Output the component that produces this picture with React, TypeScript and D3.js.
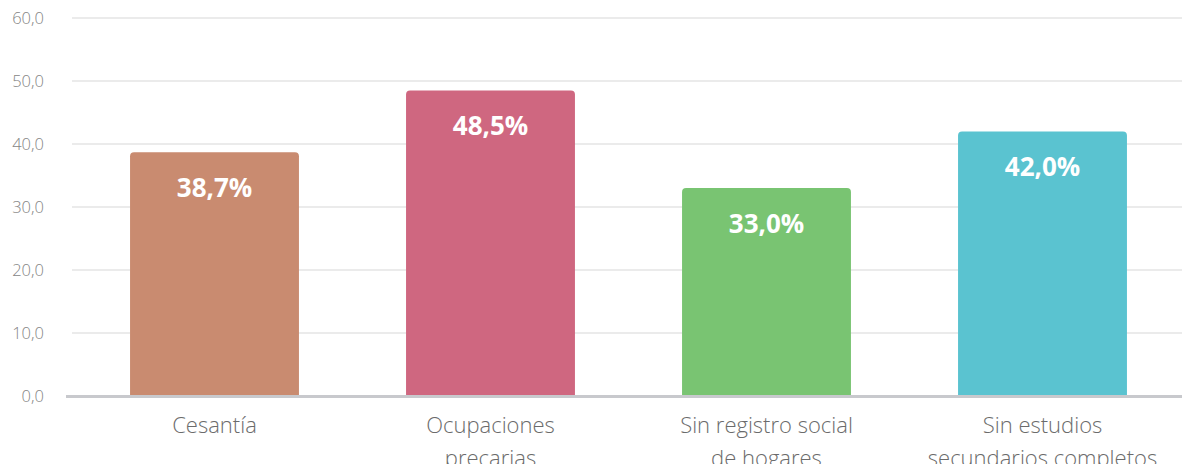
import React, { useEffect, useRef } from "react";
import * as d3 from "d3";

const categories = [
  ["Cesantía"],
  ["Ocupaciones", "precarias"],
  ["Sin registro social", "de hogares"],
  ["Sin estudios", "secundarios completos"],
];
const values = [38.7, 48.5, 33.0, 42.0];
const colors = ["#c98b70", "#cf6780", "#79c472", "#5ac3d0"];
const yTicks = [0, 10, 20, 30, 40, 50, 60];

const W = 1182;
const H = 464;
const FONT = "'Open Sans', 'Noto Sans', sans-serif";

export default function App() {
  const ref = useRef<SVGSVGElement>(null);

  useEffect(() => {
    const svg = d3.select(ref.current);
    svg.selectAll("*").remove();

    const y = d3.scaleLinear().domain([0, 60]).range([396, 18]);
    const x = d3
      .scaleBand()
      .domain(d3.range(values.length).map(String))
      .range([76.5, 1180.5])
      .paddingInner(0.388)
      .paddingOuter(0.194);

    const fmt = (v: number) => v.toFixed(1).replace(".", ",");

    // grid
    svg
      .append("g")
      .selectAll("line")
      .data(yTicks.filter((t) => t > 0))
      .join("line")
      .attr("x1", 72)
      .attr("x2", W)
      .attr("y1", (d) => y(d))
      .attr("y2", (d) => y(d))
      .attr("stroke", "#e5e5e5")
      .attr("stroke-width", 1.5);

    svg
      .append("g")
      .selectAll("text")
      .data(yTicks)
      .join("text")
      .attr("x", 44)
      .attr("y", (d) => y(d) + 5.5)
      .attr("text-anchor", "end")
      .attr("font-family", FONT)
      .attr("font-size", 16.5)
      .attr("font-weight", 300)
      .attr("fill", "#858585")
      .text((d) => fmt(d));

    const r = 4;
    svg
      .append("g")
      .selectAll("path")
      .data(values)
      .join("path")
      .attr("d", (d, i) => {
        const x0 = x(String(i))!;
        const w = x.bandwidth();
        const top = y(d);
        const b = y(0);
        return `M${x0},${b}V${top + r}Q${x0},${top} ${x0 + r},${top}H${x0 + w - r}Q${x0 + w},${top} ${x0 + w},${top + r}V${b}Z`;
      })
      .attr("fill", (d, i) => colors[i]);

    svg
      .append("g")
      .selectAll("text")
      .data(values)
      .join("text")
      .attr("x", (d, i) => x(String(i))! + x.bandwidth() / 2)
      .attr("y", (d) => y(d) + 45)
      .attr("text-anchor", "middle")
      .attr("font-family", FONT)
      .attr("font-size", 26)
      .attr("font-weight", 700)
      .attr("fill", "#ffffff")
      .text((d) => fmt(d) + "%");

    // baseline
    svg
      .append("line")
      .attr("x1", 66)
      .attr("x2", W)
      .attr("y1", y(0) + 0.5)
      .attr("y2", y(0) + 0.5)
      .attr("stroke", "#c8c9cd")
      .attr("stroke-width", 3);

    const lab = svg
      .append("g")
      .selectAll("text")
      .data(categories)
      .join("text")
      .attr("x", (d, i) => x(String(i))! + x.bandwidth() / 2)
      .attr("y", 433)
      .attr("text-anchor", "middle")
      .attr("font-family", FONT)
      .attr("font-size", 22)
      .attr("font-weight", 300)
      .attr("fill", "#6b6b6b");
    lab
      .selectAll("tspan")
      .data((d) => d)
      .join("tspan")
      .attr("x", function () {
        return (this.parentNode as SVGTextElement).getAttribute("x");
      })
      .attr("dy", (d, i) => (i === 0 ? 0 : 33))
      .text((d) => d);
  }, []);

  return (
    <svg
      ref={ref}
      width={W}
      height={H}
      style={{ position: "absolute", left: 0, top: 0, display: "block" }}
    />
  );
}
